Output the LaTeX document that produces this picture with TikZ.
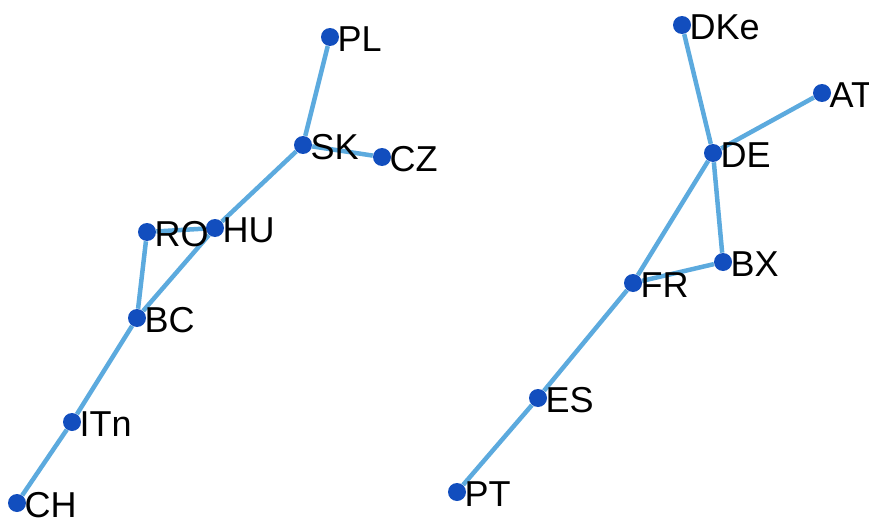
\documentclass[tikz,border=0pt]{standalone}
\usepackage{fontspec}
\setmainfont{Liberation Sans}
\usetikzlibrary{backgrounds}
\definecolor{dotblue}{RGB}{18,78,190}
\definecolor{edgeblue}{RGB}{92,170,222}
\tikzset{ dot/.style={circle, fill=dotblue, inner sep=0pt, minimum size=0.36cm},
          lbl/.style={inner sep=0pt, label distance=-0.04cm, yshift=-0.05cm,
                      font=\fontsize{20.5}{22}\selectfont} }
\begin{document}
\begin{tikzpicture}[x=0.02cm, y=-0.02cm, every edge/.style={draw=edgeblue, line width=0.09cm}]
        \clip (0,0) rectangle (869,524);
        \useasboundingbox (0,0) rectangle (869,524);
        % left group
        \node[dot, label={[lbl]right:PL}] (pl) at (330,37) {};
        \node[dot, label={[lbl]right:SK}] (sk) at (303,145) {};
        \node[dot, label={[lbl]right:CZ}] (cz) at (382,157) {};
        \node[dot, label={[lbl]right:HU}] (hu) at (215,228) {};
        \node[dot, label={[lbl]right:RO}] (ro) at (147,232) {};
        \node[dot, label={[lbl]right:BC}] (bc) at (137,318) {};
        \node[dot, label={[lbl]right:ITn}] (itn) at (72,422) {};
        \node[dot, label={[lbl]right:CH}] (ch) at (17,503) {};
        % right group
        \node[dot, label={[lbl]right:DKe}] (dke) at (682,25) {};
        \node[dot, label={[lbl]right:AT}] (at) at (822,93) {};
        \node[dot, label={[lbl]right:DE}] (de) at (713,153) {};
        \node[dot, label={[lbl]right:BX}] (bx) at (723,262) {};
        \node[dot, label={[lbl]right:FR}] (fr) at (633,283) {};
        \node[dot, label={[lbl]right:ES}] (es) at (538,398) {};
        \node[dot, label={[lbl]right:PT}] (pt) at (457,492) {};

        \begin{scope}[on background layer]
        \path (pl) edge (sk)
              (sk) edge (cz)
              (sk) edge (hu)
              (ro) edge (hu)
              (hu) edge (bc)
              (ro) edge (bc)
              (bc) edge (itn)
              (itn) edge (ch)
              (dke) edge (de)
              (at) edge (de)
              (de) edge (fr)
              (de) edge (bx)
              (bx) edge (fr)
              (fr) edge (es)
              (es) edge (pt);
        \end{scope}
    \end{tikzpicture}
\end{document}
